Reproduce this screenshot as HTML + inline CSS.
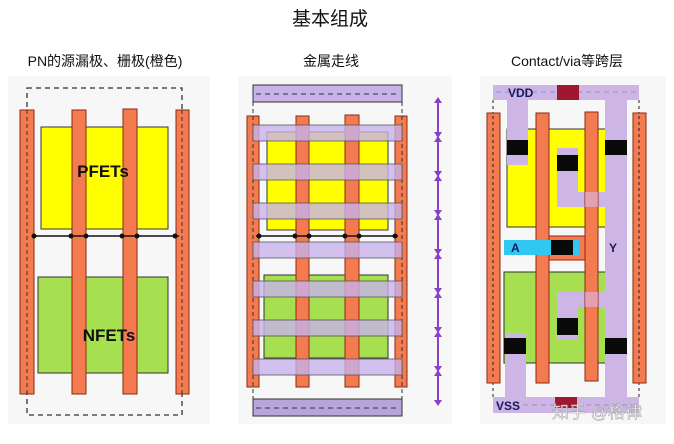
<!DOCTYPE html>
<html><head><meta charset="utf-8"><style>
body{margin:0;background:#fff;width:674px;height:444px;overflow:hidden;font-family:"Liberation Sans","Noto Sans CJK SC",sans-serif}
</style></head><body>
<svg width="674" height="444" viewBox="0 0 674 444" xmlns="http://www.w3.org/2000/svg" style="position:absolute;left:0;top:0">
<g font-family="Liberation Sans, Noto Sans CJK SC, sans-serif" fill="#111">
<text x="330" y="25" font-size="19" text-anchor="middle">基本组成</text>
<text x="105" y="66" font-size="14" text-anchor="middle">PN的源漏极、栅极(橙色)</text>
<text x="331" y="66" font-size="14" text-anchor="middle">金属走线</text>
<text x="567" y="66" font-size="14" text-anchor="middle">Contact/via等跨层</text>
</g>
<!-- panel backgrounds -->
<rect x="8" y="76" width="202" height="348" fill="#f7f7f7"/>
<rect x="238" y="76" width="214" height="348" fill="#f7f7f7"/>
<rect x="480" y="76" width="186" height="348" fill="#f7f7f7"/>

<!-- Panel 1 -->
<rect x="27" y="88" width="155" height="327" fill="none" stroke="#333" stroke-width="1.3" stroke-dasharray="5,4"/>
<rect x="41" y="127" width="127" height="102" fill="#ffff00" stroke="#333"/>
<rect x="38" y="277" width="130" height="96" fill="#a6e050" stroke="#333"/>
<g fill="#f47a50" stroke="#8a2a10" stroke-width="1">
<rect x="20" y="110" width="14" height="284"/>
<rect x="72" y="110" width="14" height="284"/>
<rect x="123" y="109" width="14" height="285"/>
<rect x="176" y="110" width="13" height="284"/>
</g>
<text x="103" y="177" font-size="17" font-weight="bold" text-anchor="middle" fill="#111" font-family="Liberation Sans">PFETs</text>
<text x="109" y="341" font-size="17" font-weight="bold" text-anchor="middle" fill="#111" font-family="Liberation Sans">NFETs</text>
<line x1="27" y1="110" x2="27" y2="394" stroke="#333" stroke-dasharray="4,3"/>
<line x1="182" y1="110" x2="182" y2="394" stroke="#333" stroke-dasharray="4,3"/>
<line x1="32" y1="236" x2="179" y2="236" stroke="#111" stroke-width="1.5"/>
<g fill="#111"><circle cx="34" cy="236" r="2.5"/><circle cx="71" cy="236" r="2.5"/><circle cx="86" cy="236" r="2.5"/><circle cx="122" cy="236" r="2.5"/><circle cx="137" cy="236" r="2.5"/><circle cx="175" cy="236" r="2.5"/></g>

<!-- Panel 2 -->
<rect x="253" y="85" width="149" height="17" fill="#c8b2e8" stroke="#333"/>
<line x1="256" y1="94" x2="400" y2="94" stroke="#333" stroke-dasharray="5,4"/>
<rect x="253" y="399" width="149" height="17" fill="#b8a4d8" stroke="#333"/>
<line x1="256" y1="408" x2="400" y2="408" stroke="#333" stroke-dasharray="5,4"/>
<rect x="267" y="132" width="121" height="98" fill="#ffff00" stroke="#333"/>
<rect x="264" y="275" width="124" height="83" fill="#a6e050" stroke="#333"/>
<g fill="#f47a50" stroke="#8a2a10">
<rect x="247" y="116" width="12" height="271"/>
<rect x="296" y="116" width="13" height="271"/>
<rect x="345" y="115" width="14" height="272"/>
<rect x="395" y="116" width="12" height="271"/>
</g>
<line x1="253" y1="102" x2="253" y2="399" stroke="#333" stroke-dasharray="4,3"/>
<line x1="402" y1="102" x2="402" y2="399" stroke="#333" stroke-dasharray="4,3"/>
<line x1="256" y1="236" x2="398" y2="236" stroke="#111" stroke-width="1.5"/>
<g fill="#111"><circle cx="259" cy="236" r="2.5"/><circle cx="295" cy="236" r="2.5"/><circle cx="309" cy="236" r="2.5"/><circle cx="345" cy="236" r="2.5"/><circle cx="359" cy="236" r="2.5"/><circle cx="395" cy="236" r="2.5"/></g>
<g fill="#c8b2ec" fill-opacity="0.8" stroke="#555" stroke-width="0.8">
<rect x="253" y="125" width="149" height="16"/>
<rect x="253" y="164" width="149" height="16"/>
<rect x="253" y="203" width="149" height="16"/>
<rect x="253" y="242" width="149" height="16"/>
<rect x="253" y="281" width="149" height="16"/>
<rect x="253" y="320" width="149" height="16"/>
<rect x="253" y="359" width="149" height="16"/>
</g>
<g stroke="#8a40c8" stroke-width="2" fill="#8a40c8">
<line x1="438" y1="99" x2="438" y2="404"/>
<path d="M434 103 L438 97 L442 103Z M434 400 L438 406 L442 400Z" stroke="none"/>
<path d="M434 132 L438 138 L442 132 M434 142 L438 136 L442 142 M434 171 L438 177 L442 171 M434 181 L438 175 L442 181 M434 210 L438 216 L442 210 M434 220 L438 214 L442 220 M434 249 L438 255 L442 249 M434 259 L438 253 L442 259 M434 288 L438 294 L442 288 M434 298 L438 292 L442 298 M434 327 L438 333 L442 327 M434 337 L438 331 L442 337 M434 366 L438 372 L442 366 M434 376 L438 370 L442 376" stroke="none"/>
</g>

<!-- Panel 3 -->
<rect x="507" y="129" width="119" height="98" fill="#ffff00" stroke="#333"/>
<rect x="504" y="272" width="122" height="91" fill="#a6e050" stroke="#333"/>
<g fill="#cdb6e6">
<rect x="493" y="85" width="146" height="15"/>
<rect x="493" y="397" width="146" height="16"/>
<rect x="507" y="100" width="21" height="65"/>
<rect x="605" y="100" width="22" height="297"/>
<rect x="557" y="148" width="21" height="59"/>
<rect x="557" y="192" width="70" height="15"/>
<rect x="557" y="292" width="70" height="15"/>
<rect x="557" y="292" width="21" height="48"/>
<rect x="505" y="333" width="21" height="64"/>
</g>
<line x1="496" y1="92" x2="636" y2="92" stroke="#9c8cb8" stroke-dasharray="5,4"/>
<line x1="496" y1="405" x2="636" y2="405" stroke="#9c8cb8" stroke-dasharray="5,4"/>
<rect x="557" y="85" width="22" height="15" fill="#a01830"/>
<rect x="555" y="397" width="22" height="11" fill="#a01830"/>
<text x="508" y="97" font-size="12" font-weight="bold" fill="#1a1a60" font-family="Liberation Sans">VDD</text>
<text x="496" y="410" font-size="12" font-weight="bold" fill="#1a1a60" font-family="Liberation Sans">VSS</text>
<line x1="493" y1="100" x2="493" y2="397" stroke="#222" stroke-dasharray="3,3"/>
<line x1="639" y1="100" x2="639" y2="397" stroke="#222" stroke-dasharray="3,3"/>
<g fill="#f47a50" stroke="#8a2a10">
<rect x="487" y="113" width="13" height="270"/>
<rect x="536" y="113" width="13" height="270"/>
<rect x="585" y="112" width="13" height="269"/>
<rect x="633" y="113" width="13" height="270"/>
</g>
<g fill="#d8b8f0" fill-opacity="0.6">
<rect x="585" y="192" width="13" height="15"/>
<rect x="585" y="292" width="13" height="15"/>
</g>
<line x1="493" y1="116" x2="493" y2="380" stroke="#222" stroke-dasharray="3,3"/>
<line x1="639" y1="116" x2="639" y2="380" stroke="#222" stroke-dasharray="3,3"/>
<rect x="549" y="236" width="36" height="24" fill="#f47a50" stroke="#a02010"/>
<rect x="504" y="240" width="75" height="15" fill="#30c8f0"/>
<text x="511" y="252" font-size="12" font-weight="bold" fill="#1a1a60" font-family="Liberation Sans">A</text>
<text x="609" y="252" font-size="12" font-weight="bold" fill="#1a1a60" font-family="Liberation Sans">Y</text>
<g fill="#0a0a0a">
<rect x="551" y="240" width="22" height="15"/>
<rect x="507" y="140" width="21" height="15"/>
<rect x="605" y="140" width="22" height="15"/>
<rect x="557" y="155" width="21" height="16"/>
<rect x="557" y="318" width="21" height="17"/>
<rect x="504" y="338" width="22" height="16"/>
<rect x="605" y="338" width="22" height="16"/>
</g>
<text x="552" y="418" font-size="17" fill="#fff" fill-opacity="0.85" stroke="#999" stroke-width="0.5" font-family="Liberation Sans, Noto Sans CJK SC, sans-serif">知乎 @格律</text>
</svg>
</body></html>
